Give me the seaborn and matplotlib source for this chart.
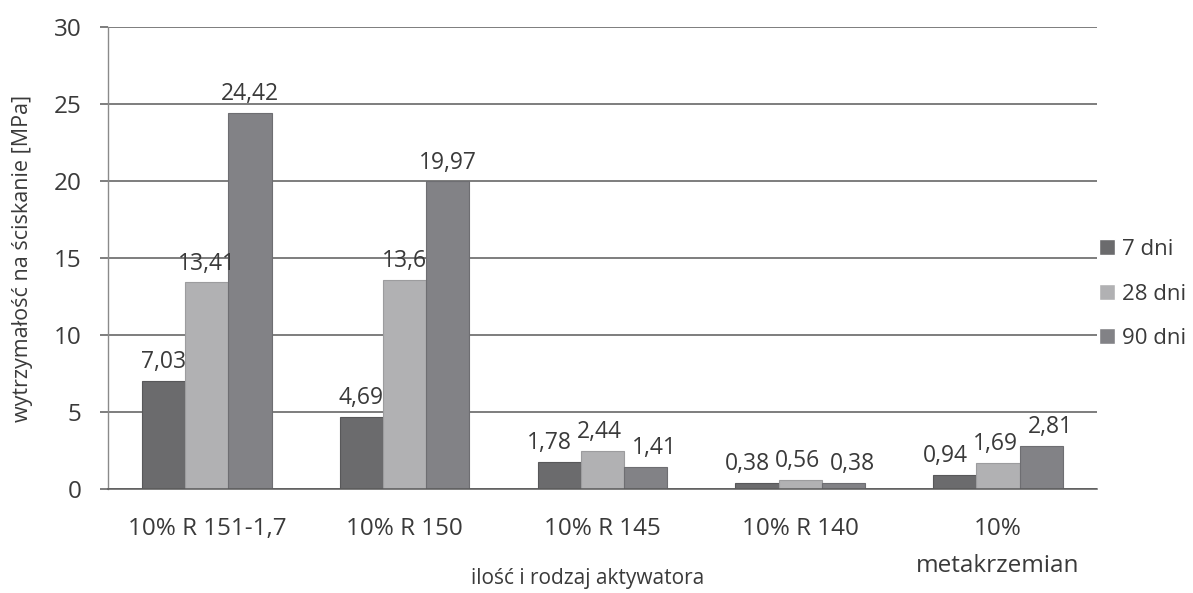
import matplotlib
matplotlib.use("Agg")
import matplotlib.pyplot as plt
import seaborn as sns
import pandas as pd

# Compressive strength of mortars per activator and curing time
categories = ["10% R 151-1,7", "10% R 150", "10% R 145", "10% R 140", "10%\nmetakrzemian"]
series_names = ["7 dni", "28 dni", "90 dni"]
strength_7 = [7.03, 4.69, 1.78, 0.38, 0.94]
strength_28 = [13.41, 13.6, 2.44, 0.56, 1.69]
strength_90 = [24.42, 19.97, 1.41, 0.38, 2.81]
y_ticks = [0, 5, 10, 15, 20, 25, 30]

rows = []
for name, vals in zip(series_names, [strength_7, strength_28, strength_90]):
    for cat, v in zip(categories, vals):
        rows.append({"aktywator": cat, "seria": name, "wartosc": v})
df = pd.DataFrame(rows)

sns.set_theme(style="white")
plt.rcParams["font.family"] = ["Open Sans", "DejaVu Sans"]

colors = ["#6b6b6d", "#b1b1b3", "#828286"]
edges = ["#58585a", "#9c9c9e", "#6e6e72"]
text_color = "#3a3a3a"
grid_color = "#5a5a5a"

fig = plt.figure(figsize=(11.93, 5.93), dpi=100, facecolor="white")
ax = fig.add_axes([0.0905, 0.1754, 0.829, 0.7791])

sns.barplot(data=df, x="aktywator", y="wartosc", hue="seria", order=categories,
            hue_order=series_names, palette=colors, width=0.655, gap=0,
            saturation=1, ax=ax, errorbar=None)

# value labels; on the low, crowded groups the labels are spread sideways
side_shift = [-7, -2, 6.5]
for k, (container, ec, vals) in enumerate(zip(ax.containers, edges,
                                               [strength_7, strength_28, strength_90])):
    for patch in container:
        patch.set_edgecolor(ec)
        patch.set_linewidth(0.8)
    texts = ax.bar_label(container, labels=[f"{v:g}".replace(".", ",") for v in vals],
                         padding=5, fontsize=16.5, color=text_color)
    for t, v in zip(texts, vals):
        if v < 3:
            dx, dy = t.xyann
            t.xyann = (dx + side_shift[k], dy)

ax.set_ylim(0, 30)
ax.set_yticks(y_ticks)
ax.set_xlim(-0.5, 4.5)
ax.yaxis.grid(True, color=grid_color, linewidth=1.1)
ax.set_axisbelow(True)

for side in ["top", "right"]:
    ax.spines[side].set_visible(False)
ax.spines["left"].set_color("#8a8a8a")
ax.spines["left"].set_linewidth(1.0)
ax.spines["bottom"].set_color(grid_color)
ax.spines["bottom"].set_linewidth(1.1)

ax.tick_params(axis="y", which="both", left=True, length=6, width=1.1, color=grid_color,
               pad=13, labelsize=17.5, labelcolor=text_color)
ax.tick_params(axis="x", bottom=False, pad=14, labelsize=17.5, labelcolor=text_color)
for lab in ax.get_xticklabels():
    if "\n" in lab.get_text():
        lab.set_linespacing(1.75)

ax.set_ylabel("wytrzymałość na ściskanie [MPa]", fontsize=15.5, color=text_color)
ax.yaxis.set_label_coords(-0.076, 0.5)
ax.set_xlabel("ilość i rodzaj aktywatora", fontsize=15, color=text_color)
ax.xaxis.set_label_coords(0.485, -0.17)

leg = ax.legend(loc="center left", bbox_to_anchor=(1.002, 0.422), frameon=False,
                fontsize=16, handlelength=0.72, handleheight=0.72, handletextpad=0.3,
                labelspacing=1.05, borderaxespad=0, borderpad=0)
for t in leg.get_texts():
    t.set_color(text_color)

fig.savefig("out.png", dpi=100, facecolor="white")
